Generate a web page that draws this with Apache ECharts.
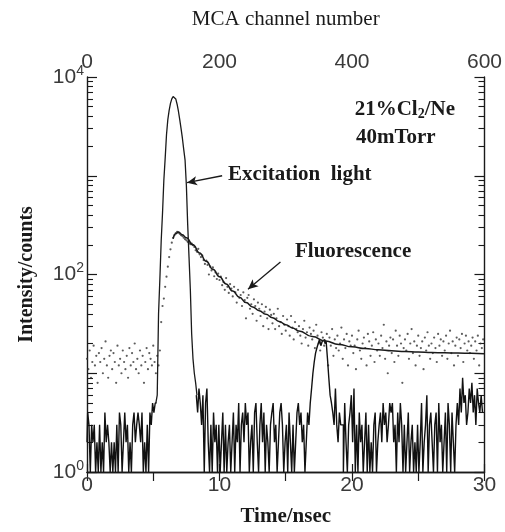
<!DOCTYPE html>
<html><head><meta charset="utf-8">
<script src="https://cdn.jsdelivr.net/npm/echarts@6/dist/echarts.min.js"></script>
<style>html,body{margin:0;padding:0;background:#fff}#c{width:505px;height:532px}</style>
</head><body><div id="c"></div>
<script>
// ---- data (time step 0.1 ns = 2 MCA channels) ----
const DT = 0.1;
// excitation-light trace (counts), t = 0.0 .. 29.9 ns; null where the pulse array takes over
const excitationNoise = [
 2,4,3,1,3,2,3,1,2,1, 3,1,2,1,4,2,3,2,1,2, 1,2,1,3,1,4,3,1,2,4, 2,3,1,2,1,3,4,2,3,4,
 3,2,4,1,2,1,3,1,4,3, 5,4,5,null,null,null,null,null,null,null,
 null,null,null,null,null,null,null,null,null,null, null,null,null,null,null,null,null,null,null,null,
 null,null,null,6,4,7,5,3,6,1, 5,7,2,1,3,1,4,2,3,1,
 3,1,2,4,1,3,1,2,3,1, 2,4,1,3,2,5,1,3,4,2, 5,3,4,1,2,3,1,4,5,2, 1,3,5,2,4,1,3,2,1,3,
 4,5,2,3,1,2,4,5,3,1, 2,3,1,4,2,1,3,1,2,4, 5,3,4,2,3,1,2,4,3,5, 7,10,13,16,18,20,22,19,21,22,
 20,21,14,9,6,5,4,3,7,3, 2,4,3,3,1,5,2,1,3,4, 6,2,7,1,3,1,4,2,3,1, 2,4,1,3,1,2,1,3,4,1,
 2,3,4,2,5,3,4,2,3,5, 4,5,2,3,1,4,2,5,3,1, 3,1,2,4,1,2,3,1,2,1, 3,1,2,5,1,2,3,6,1,3,
 4,2,1,3,4,1,5,2,3,1, 2,4,1,5,3,1,4,2,1,3, 5,3,7,4,9,5,6,3,4,7, 5,8,4,6,3,7,5,4,6,4
];
// excitation pulse, t = 5.2 .. 8.3 ns
const PULSE_START = 5.2;
const excitationPulse = [5,6,40,90,220,420,900,1500,2600,3700,4600,5400,6000,6350,6400,6000,
 5300,4500,3700,3000,2400,1850,1450,800,320,150,70,25,14,10,8,6];
// fluorescence counts, t = 0.0 .. 29.9 ns
const fluorescence = [
 14,11,17,9,13,19,12,15,8,16, 13,18,10,14,21,12,9,15,17,11, 16,13,8,19,12,14,10,17,13,11,
 15,9,18,12,16,13,20,11,14,10, 17,12,15,8,13,18,11,16,14,12, 19,13,10,15,12,17,33,48,57,75,
 95,120,150,180,210,235,250,262,270,265, 258,250,245,236,228,222,214,208,203,205,
 198,190,176,170,182,160,150,155,140,128, 138,125,100,120,110,118,96,105,90,102,
 88,95,78,84,70,92,75,65,80,72, 60,75,66,52,70,58,62,48,66,55, 36,58,62,45,50,40,56,48,34,52,
 45,38,50,30,42,47,36,28,44,39, 32,40,28,36,45,30,33,25,38,31, 27,35,30,24,38,29,22,33,28,26,
 30,24,20,28,34,23,26,19,29,25, 22,27,18,31,24,20,17,26,23,19, 21,25,12,23,19,28,15,22,18,24,
 17,20,29,14,22,18,25,12,21,19, 24,16,19,11,22,27,17,14,20,23, 18,12,25,21,15,19,26,13,22,17,
 20,15,24,18,31,14,21,10,19,23, 16,22,13,27,19,15,24,20,8,18, 22,17,25,14,20,28,16,21,12,19,
 24,15,18,21,11,23,17,26,19,14, 20,16,23,18,13,25,19,22,15,21, 17,24,14,20,27,16,21,12,19,23,
 15,22,18,25,13,20,24,17,21,16, 19,23,14,21,17,24,12,20,18,22
];
// fitted decay curve
const fitTime  = [6.5,6.7,6.9,7.2,7.5,8,8.5,9,9.5,10,10.5,11,11.5,12,12.5,13,13.5,14,14.5,15,15.5,16,17,18,19,20,21,22,23,24,25,26,27,28,29,30];
const fitValue = [230,258,270,252,235,200,165,136,113,95,80,68,59,52,47,43,39.5,36.5,33.5,31,28.8,26.8,23.5,21.2,19.6,18.5,17.8,17.3,16.9,16.6,16.4,16.2,16.1,16,15.9,15.8];
// axis labels
const yLabelExponents = [0,2,4];
const topLabelValues = [0,200,400,600];

// ---- chart ----
const chart = echarts.init(document.getElementById('c'), null, {renderer:'canvas'});
const pairs = (arr, t0) => arr.map((v,i) => [+(t0 + i*DT).toFixed(2), v]);
const minorPos = [];
for (let d = 0; d < 4; d++) for (let k = 2; k <= 9; k++) minorPos.push(d + Math.log10(k));

const INK = '#1a1a1a';
const LABEL = '#3a3a3a';
const sans = 'Liberation Sans';
const serif = 'Liberation Serif';
const lineStyle = {color: INK, width: 1.4};
const richY = {
  b: {fontFamily: sans, fontSize: 21, color: LABEL, lineHeight: 23},
  s: {fontFamily: sans, fontSize: 14, color: LABEL, lineHeight: 14, padding: [0,0,12,0]}
};
const yLabelFmt = v => {
  const e = Math.round(Math.log10(v));
  return yLabelExponents.includes(e) ? '{b|10}{s|' + e + '}' : '';
};
const logAxisBase = (pos, showLabel) => ({
  type: 'log', logBase: 10, min: 1, max: 10000, position: pos,
  axisLine: {show: true, lineStyle}, splitLine: {show: false},
  axisTick: {show: true, inside: true, length: 10, lineStyle: {color: INK, width: 1.2}},
  axisLabel: {show: showLabel, formatter: yLabelFmt, rich: richY, margin: 3}
});
const minorAxis = pos => ({
  type: 'value', min: 0, max: 4, position: pos,
  axisLine: {show: false}, splitLine: {show: false}, axisLabel: {show: false},
  axisTick: {show: true, inside: true, length: 6, customValues: minorPos, lineStyle: {color: INK, width: 1.1}}
});

const option = {
  backgroundColor: '#fff',
  animation: false,
  grid: {left: 87, right: 20, top: 77, bottom: 58, containLabel: false},
  xAxis: [
    {type: 'value', min: 0, max: 30, interval: 10, position: 'bottom',
     axisLine: {lineStyle}, splitLine: {show: false},
     axisTick: {inside: true, length: 8, lineStyle: {color: INK, width: 1.2}},
     axisLabel: {fontFamily: sans, fontSize: 21, color: LABEL, margin: 3},
     name: 'Time/nsec', nameLocation: 'middle', nameGap: 34,
     nameTextStyle: {fontFamily: serif, fontWeight: 'bold', fontSize: 21, color: INK}},
    {type: 'value', min: 0, max: 600, interval: 100, position: 'top',
     axisLine: {lineStyle}, splitLine: {show: false},
     axisTick: {inside: true, length: 9, lineStyle: {color: INK, width: 1.2}},
     axisLabel: {fontFamily: sans, fontSize: 21, color: LABEL, margin: 4,
       formatter: v => topLabelValues.includes(v) ? String(v) : ''},
     name: 'MCA channel number', nameLocation: 'middle', nameGap: 47,
     nameTextStyle: {fontFamily: serif, fontSize: 21, color: INK}}
  ],
  yAxis: [
    Object.assign(logAxisBase('left', true), {
      name: 'Intensity/counts', nameLocation: 'middle', nameGap: 50, nameRotate: 90,
      nameTextStyle: {fontFamily: serif, fontWeight: 'bold', fontSize: 20, color: INK}}),
    minorAxis('left'),
    logAxisBase('right', false),
    minorAxis('right')
  ],
  series: [
    {name: 'noise', type: 'line', step: 'middle', showSymbol: false, connectNulls: false,
     data: pairs(excitationNoise, 0), lineStyle: {color: '#111', width: 1.4}, clip: true},
    {name: 'excitation', type: 'line', showSymbol: false,
     data: pairs(excitationPulse, PULSE_START), lineStyle: {color: INK, width: 1.3}, clip: true,
     markLine: {silent: true, symbol: ['none','arrow'], symbolSize: [7, 10], label: {show: false},
       lineStyle: {color: INK, width: 1.3, type: 'solid'},
       data: [
         [{coord: [10.2, 1000]}, {coord: [7.55, 850]}],
         [{coord: [14.6, 134]}, {coord: [12.15, 71]}]
       ]}},
    {name: 'fluorescence', type: 'scatter', symbol: 'circle', symbolSize: 2.2,
     data: pairs(fluorescence, 0), itemStyle: {color: '#333'}},
    {name: 'fit', type: 'line', smooth: true, smoothMonotone: 'x', showSymbol: false,
     data: fitTime.map((t,i) => [t, fitValue[i]]), lineStyle: {color: INK, width: 1.5}}
  ]
};
chart.setOption(option);

// annotations placed in data coordinates
const notes = [
  {at: [20.2, 4650], text: '21%Cl{sub|2}/Ne'},
  {at: [20.3, 2430], text: '40mTorr'},
  {at: [10.65, 1030], text: 'Excitation  light'},
  {at: [15.7, 169], text: 'Fluorescence'}
];
const noteStyle = {fontFamily: serif, fontWeight: 'bold', fontSize: 21, fill: INK};
chart.setOption({graphic: notes.map(n => {
  const p = chart.convertToPixel({xAxisIndex: 0, yAxisIndex: 0}, n.at);
  return {type: 'text', x: p[0], y: p[1],
    style: Object.assign({text: n.text, verticalAlign: 'middle', align: 'left',
      rich: {sub: {fontFamily: serif, fontWeight: 'bold', fontSize: 14, fill: INK, padding: [9,0,0,0]}}}, noteStyle)};
})});
</script></body></html>
